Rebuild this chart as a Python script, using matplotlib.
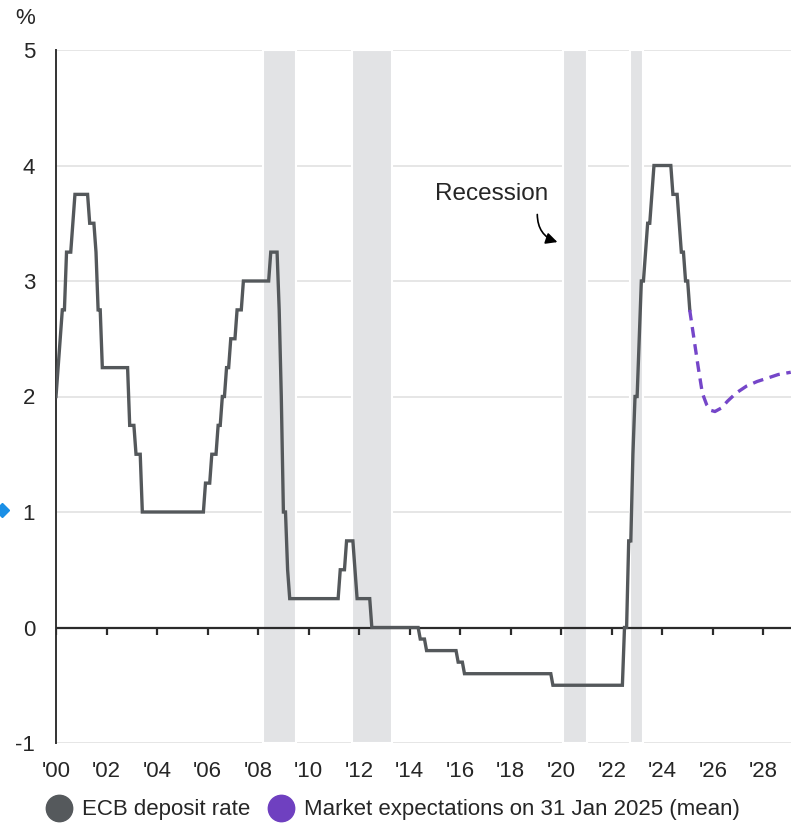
import pandas as pd
import numpy as np
import matplotlib
matplotlib.use("Agg")
import matplotlib.pyplot as plt
import matplotlib.transforms as mtransforms
from matplotlib.lines import Line2D

# Dati: variazioni del tasso sui depositi BCE (data di efficacia, livello %)
change_dates = [
    "2000-01-01", "2000-02-04", "2000-03-17", "2000-04-28", "2000-06-09", "2000-09-01",
    "2000-10-06", "2001-05-11", "2001-08-31", "2001-09-18", "2001-11-09", "2002-12-06",
    "2003-03-07", "2003-06-06", "2005-12-06", "2006-03-08", "2006-06-15", "2006-08-09",
    "2006-10-11", "2006-12-13", "2007-03-14", "2007-06-13", "2008-07-09", "2008-11-12",
    "2008-12-10", "2009-01-21", "2009-03-11", "2009-04-08", "2011-04-13", "2011-07-13",
    "2011-11-09", "2011-12-14", "2012-07-11", "2014-06-11", "2014-09-10", "2015-12-09",
    "2016-03-16", "2019-09-18", "2022-07-27", "2022-09-14", "2022-11-02", "2022-12-21",
    "2023-02-08", "2023-03-22", "2023-05-10", "2023-06-21", "2023-08-02", "2023-09-20",
    "2024-06-12", "2024-09-18", "2024-10-23", "2024-12-18", "2025-02-05",
]
change_rates = [
    2.00, 2.25, 2.50, 2.75, 3.25, 3.50,
    3.75, 3.50, 3.25, 2.75, 2.25, 1.75,
    1.50, 1.00, 1.25, 1.50, 1.75, 2.00,
    2.25, 2.50, 2.75, 3.00, 3.25, 2.75,
    2.00, 1.00, 0.50, 0.25, 0.50, 0.75,
    0.50, 0.25, 0.00, -0.10, -0.20, -0.30,
    -0.40, -0.50, 0.00, 0.75, 1.50, 2.00,
    2.50, 3.00, 3.25, 3.50, 3.75, 4.00,
    3.75, 3.50, 3.25, 3.00, 2.75,
]

# Aspettative di mercato al 31 gen 2025
exp_years = [2025.08, 2025.25, 2025.42, 2025.58, 2025.75, 2025.92, 2026.08, 2026.33,
             2026.58, 2026.92, 2027.33, 2027.75, 2028.17, 2028.58, 2029.08]
exp_rates = [2.75, 2.50, 2.25, 2.03, 1.93, 1.88, 1.87, 1.90,
             1.96, 2.03, 2.09, 2.13, 2.16, 2.19, 2.21]

# Recessioni (inizio, fine) in anni decimali
recessions = [(2008.2, 2009.5), (2011.72, 2013.3), (2020.05, 2021.0), (2022.7, 2023.25)]

tick_years = list(range(2000, 2029, 2))
tick_labels = ["'" + str(y)[2:] for y in tick_years]

# Serie mensile (valore a fine mese)
rates = pd.Series(change_rates, index=pd.to_datetime(change_dates))
months = pd.date_range("2000-01-01", "2025-02-01", freq="MS")
month_end = months + pd.offsets.MonthEnd(0)
monthly = rates.reindex(rates.index.union(month_end)).ffill().loc[month_end]
x_monthly = months.year + (months.month - 1) / 12

plt.rcParams["font.family"] = ["Liberation Sans", "DejaVu Sans"]
plt.rcParams["font.size"] = 16
plt.rcParams["axes.unicode_minus"] = False

fig = plt.figure(figsize=(7.91, 8.23), dpi=100)
ax = fig.add_axes([56 / 791, 80 / 823, 735 / 791, 693 / 823])

for start, end in recessions:
    ax.axvspan(start, end, facecolor="#e2e3e5", edgecolor="white", linewidth=1.5, zorder=1)

ax.plot(x_monthly, monthly.values, color="#54585b", linewidth=2.4, zorder=4,
        solid_joinstyle="miter")
ax.plot(exp_years, exp_rates, color="#7546c9", linewidth=2.4, linestyle=(0, (3.2, 2)),
        zorder=4)

# linea dello zero con tacche verso il basso
ax.axhline(0, color="#2b2b2b", linewidth=1.6, zorder=3)
ax.vlines(tick_years, -0.065, 0, color="#2b2b2b", linewidth=1.6, zorder=3)

ax.set_xlim(2000, 2029.09)
ax.set_ylim(-1, 5)
ax.set_yticks(range(-1, 6))
ax.set_xticks(tick_years)
ax.set_xticklabels(tick_labels)
ax.yaxis.grid(True, color="#e4e4e4", linewidth=1.3, zorder=0)
ax.set_axisbelow(True)
ax.tick_params(axis="both", length=0, colors="#262626")
ax.tick_params(axis="y", pad=15)
ax.tick_params(axis="x", pad=13)
for side in ["top", "right", "bottom"]:
    ax.spines[side].set_visible(False)
ax.spines["left"].set_color("#333333")
ax.spines["left"].set_linewidth(1.4)

fig.text(35 / 791, 1 - 19 / 823, "%", ha="right", va="center", color="#262626")

# annotazione recessione
ax.text(2017.25, 3.75, "Recession", ha="center", va="center", color="#262626",
        fontsize=17.5)
ax.annotate("", xy=(2019.95, 3.33), xytext=(2019.05, 3.6),
            arrowprops=dict(arrowstyle="-|>", connectionstyle="arc3,rad=0.4",
                            color="black", lw=1.2, mutation_scale=17))

# piccolo rombo blu tagliato sul bordo sinistro
trans = mtransforms.blended_transform_factory(fig.transFigure, ax.transData)
ax.plot([0.002], [1.02], marker="D", markersize=7, color="#1a8fe6", transform=trans,
        clip_on=False)

handles = [
    Line2D([], [], marker="o", linestyle="", markersize=19, color="#55595c"),
    Line2D([], [], marker="o", linestyle="", markersize=19, color="#6f40c0"),
]
fig.legend(handles, ["ECB deposit rate", "Market expectations on 31 Jan 2025 (mean)"],
           loc="center left", bbox_to_anchor=(48 / 791, 1 - 810 / 823), ncol=2,
           frameon=False, handlelength=1.0, handletextpad=0.55, columnspacing=0.85,
           borderpad=0, borderaxespad=0, labelcolor="#262626")

fig.savefig("out.png", dpi=100)
